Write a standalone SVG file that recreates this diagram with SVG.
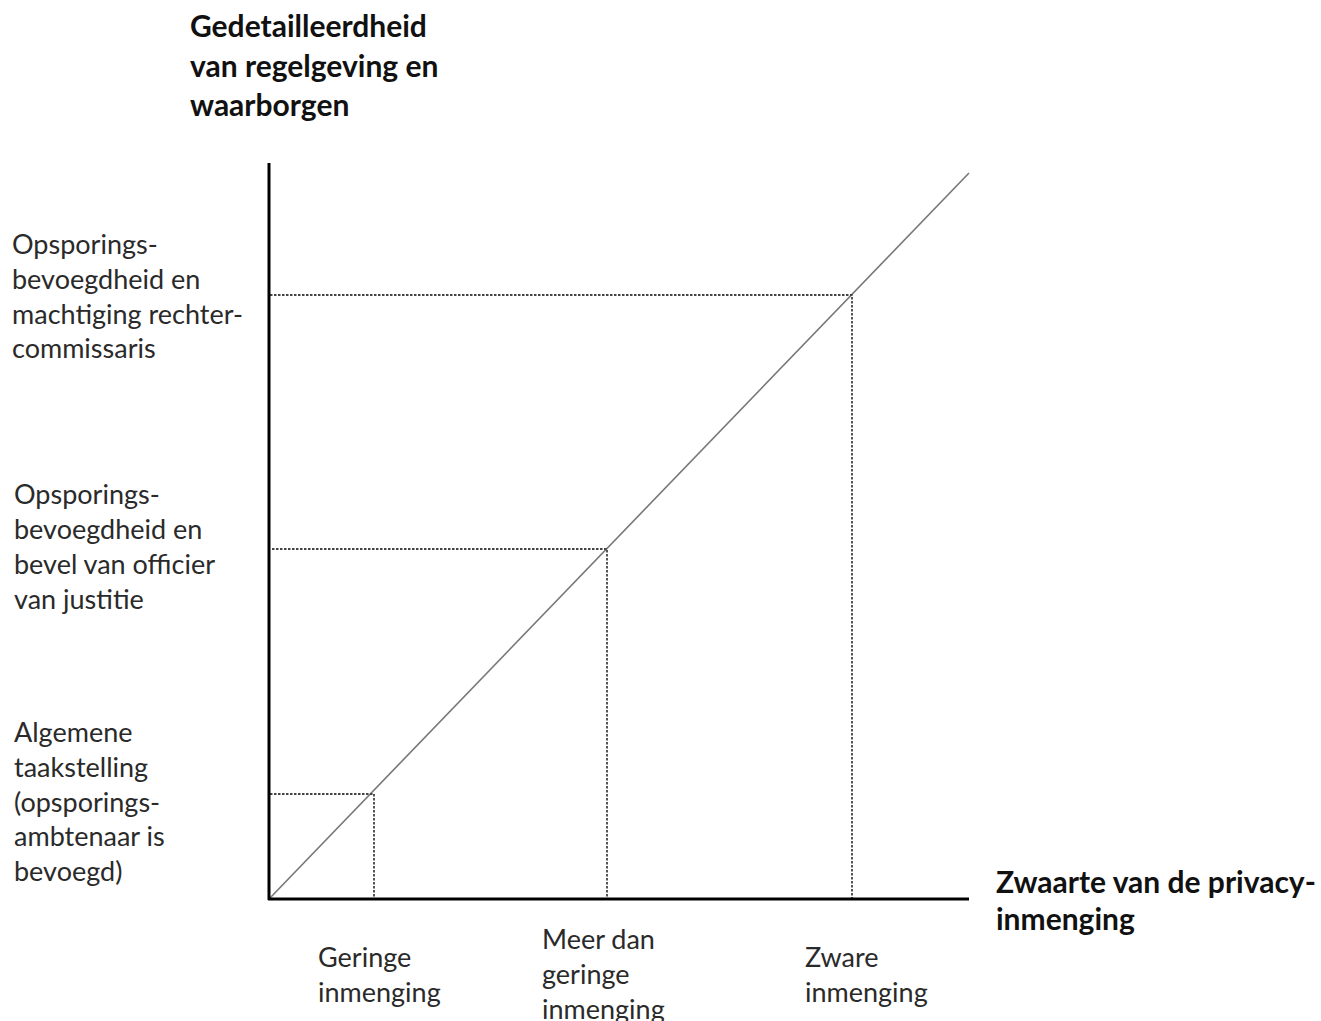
<svg xmlns="http://www.w3.org/2000/svg" width="1321" height="1021" viewBox="0 0 1321 1021">
<style>
.t{font-family:Lato,"Open Sans","Liberation Sans",sans-serif;font-size:27px;fill:#2a2a2a}
.b{font-family:Lato,"Open Sans","Liberation Sans",sans-serif;font-size:30px;font-weight:bold;fill:#111}
.axis{stroke:#000;stroke-width:3;fill:none}
.diag{stroke:#777;stroke-width:1.6;fill:none}
.dot{stroke:#444;stroke-width:1.8;stroke-dasharray:2.5 1.5;fill:none}
</style>
<rect width="1321" height="1021" fill="#fff"/>
<g id="connectors">
<line class="diag" x1="270" y1="898" x2="969" y2="173"/>
<polyline class="dot" points="270,794 374,794 374,898"/>
<polyline class="dot" points="272,549 607,549 607,898"/>
<polyline class="dot" points="270,295 852,295 852,898"/>
<line class="axis" x1="269" y1="163" x2="269" y2="900"/>
<line class="axis" x1="268" y1="899" x2="969" y2="899"/>
</g>
<g id="y-axis-title"><text class="b" x="190"><tspan x="190" y="37">Gedetailleerdheid</tspan><tspan x="190" y="77">van regelgeving en</tspan><tspan x="190" y="116">waarborgen</tspan></text></g>
<g id="x-axis-title"><text class="b"><tspan x="996" y="893">Zwaarte van de privacy-</tspan><tspan x="996" y="930">inmenging</tspan></text></g>
<g id="level-high"><text class="t"><tspan x="12" y="254">Opsporings-</tspan><tspan x="12" y="289">bevoegdheid en</tspan><tspan x="12" y="324">machtiging rechter-</tspan><tspan x="12" y="358">commissaris</tspan></text></g>
<g id="level-mid"><text class="t"><tspan x="14" y="504">Opsporings-</tspan><tspan x="14" y="539">bevoegdheid en</tspan><tspan x="14" y="574">bevel van officier</tspan><tspan x="14" y="609">van justitie</tspan></text></g>
<g id="level-low"><text class="t"><tspan x="14" y="742">Algemene</tspan><tspan x="14" y="777">taakstelling</tspan><tspan x="14" y="812">(opsporings-</tspan><tspan x="14" y="846">ambtenaar is</tspan><tspan x="14" y="881">bevoegd)</tspan></text></g>
<g id="x-low"><text class="t"><tspan x="318" y="967">Geringe</tspan><tspan x="318" y="1002">inmenging</tspan></text></g>
<g id="x-mid"><text class="t"><tspan x="542" y="949">Meer dan</tspan><tspan x="542" y="984">geringe</tspan><tspan x="542" y="1019">inmenging</tspan></text></g>
<g id="x-high"><text class="t"><tspan x="805" y="967">Zware</tspan><tspan x="805" y="1002">inmenging</tspan></text></g>
</svg>
